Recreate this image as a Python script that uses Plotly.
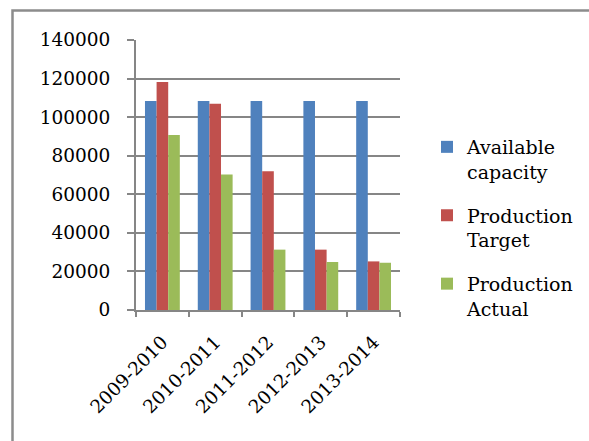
import plotly.graph_objects as go

categories = ["2009-2010", "2010-2011", "2011-2012", "2012-2013", "2013-2014"]
available_capacity = [108400, 108400, 108400, 108400, 108400]
production_target = [118200, 107000, 71900, 31300, 25200]
production_actual = [90700, 70300, 31300, 24900, 24500]

series = [
    ("Available<br>capacity", available_capacity, "#4F81BD"),
    ("Production<br>Target", production_target, "#C0504D"),
    ("Production<br>Actual", production_actual, "#9BBB59"),
]

fig = go.Figure()
for i, (name, vals, color) in enumerate(series):
    fig.add_trace(go.Bar(x=categories, y=vals, name=name, marker_color=color,
                         marker_line_width=0, legendgroup="g%d" % i))

W, H = 589, 441
L, R, T, B = 136, 189, 40, 131
pw, ph = W - L - R, H - T - B

def px_x(p):
    return (p - L) / pw

def px_y(p):
    return (H - B - p) / ph

font = "DejaVu Serif"
fig.update_layout(
    width=W, height=H,
    margin=dict(l=L, r=R, t=T, b=B, pad=0, autoexpand=False),
    paper_bgcolor="white", plot_bgcolor="white",
    font=dict(family=font, size=19, color="black"),
    barmode="group", bargap=0.34, bargroupgap=0,
    showlegend=True,
    legend=dict(x=px_x(427), xanchor="left", y=px_y(128), yanchor="top",
                font=dict(family=font, size=19, color="black"),
                tracegroupgap=16, valign="top", bgcolor="rgba(0,0,0,0)"),
    shapes=[dict(type="rect", xref="paper", yref="paper",
                 x0=px_x(12.5), x1=px_x(700), y0=px_y(10.5), y1=px_y(600),
                 line=dict(color="#8c8c8c", width=2.5), layer="below")],
)
fig.update_xaxes(
    showline=True, linecolor="#868686", linewidth=2, automargin=False,
    ticks="outside", tickson="boundaries", ticklen=5, tickcolor="#868686", tickwidth=2,
    tickangle=-45, showgrid=False, ticklabelstandoff=12,
    tickfont=dict(family=font, size=18.5, color="black"),
)
fig.update_yaxes(
    range=[0, 140000], dtick=20000, tickformat="d", automargin=False,
    showline=True, linecolor="#868686", linewidth=2,
    ticks="outside", ticklen=7, tickcolor="#868686", tickwidth=2,
    showgrid=True, gridcolor="#868686", gridwidth=2,
    zeroline=False, ticklabelstandoff=13,
    tickfont=dict(family=font, size=18.5, color="black"),
)
fig.write_html("out.html")
